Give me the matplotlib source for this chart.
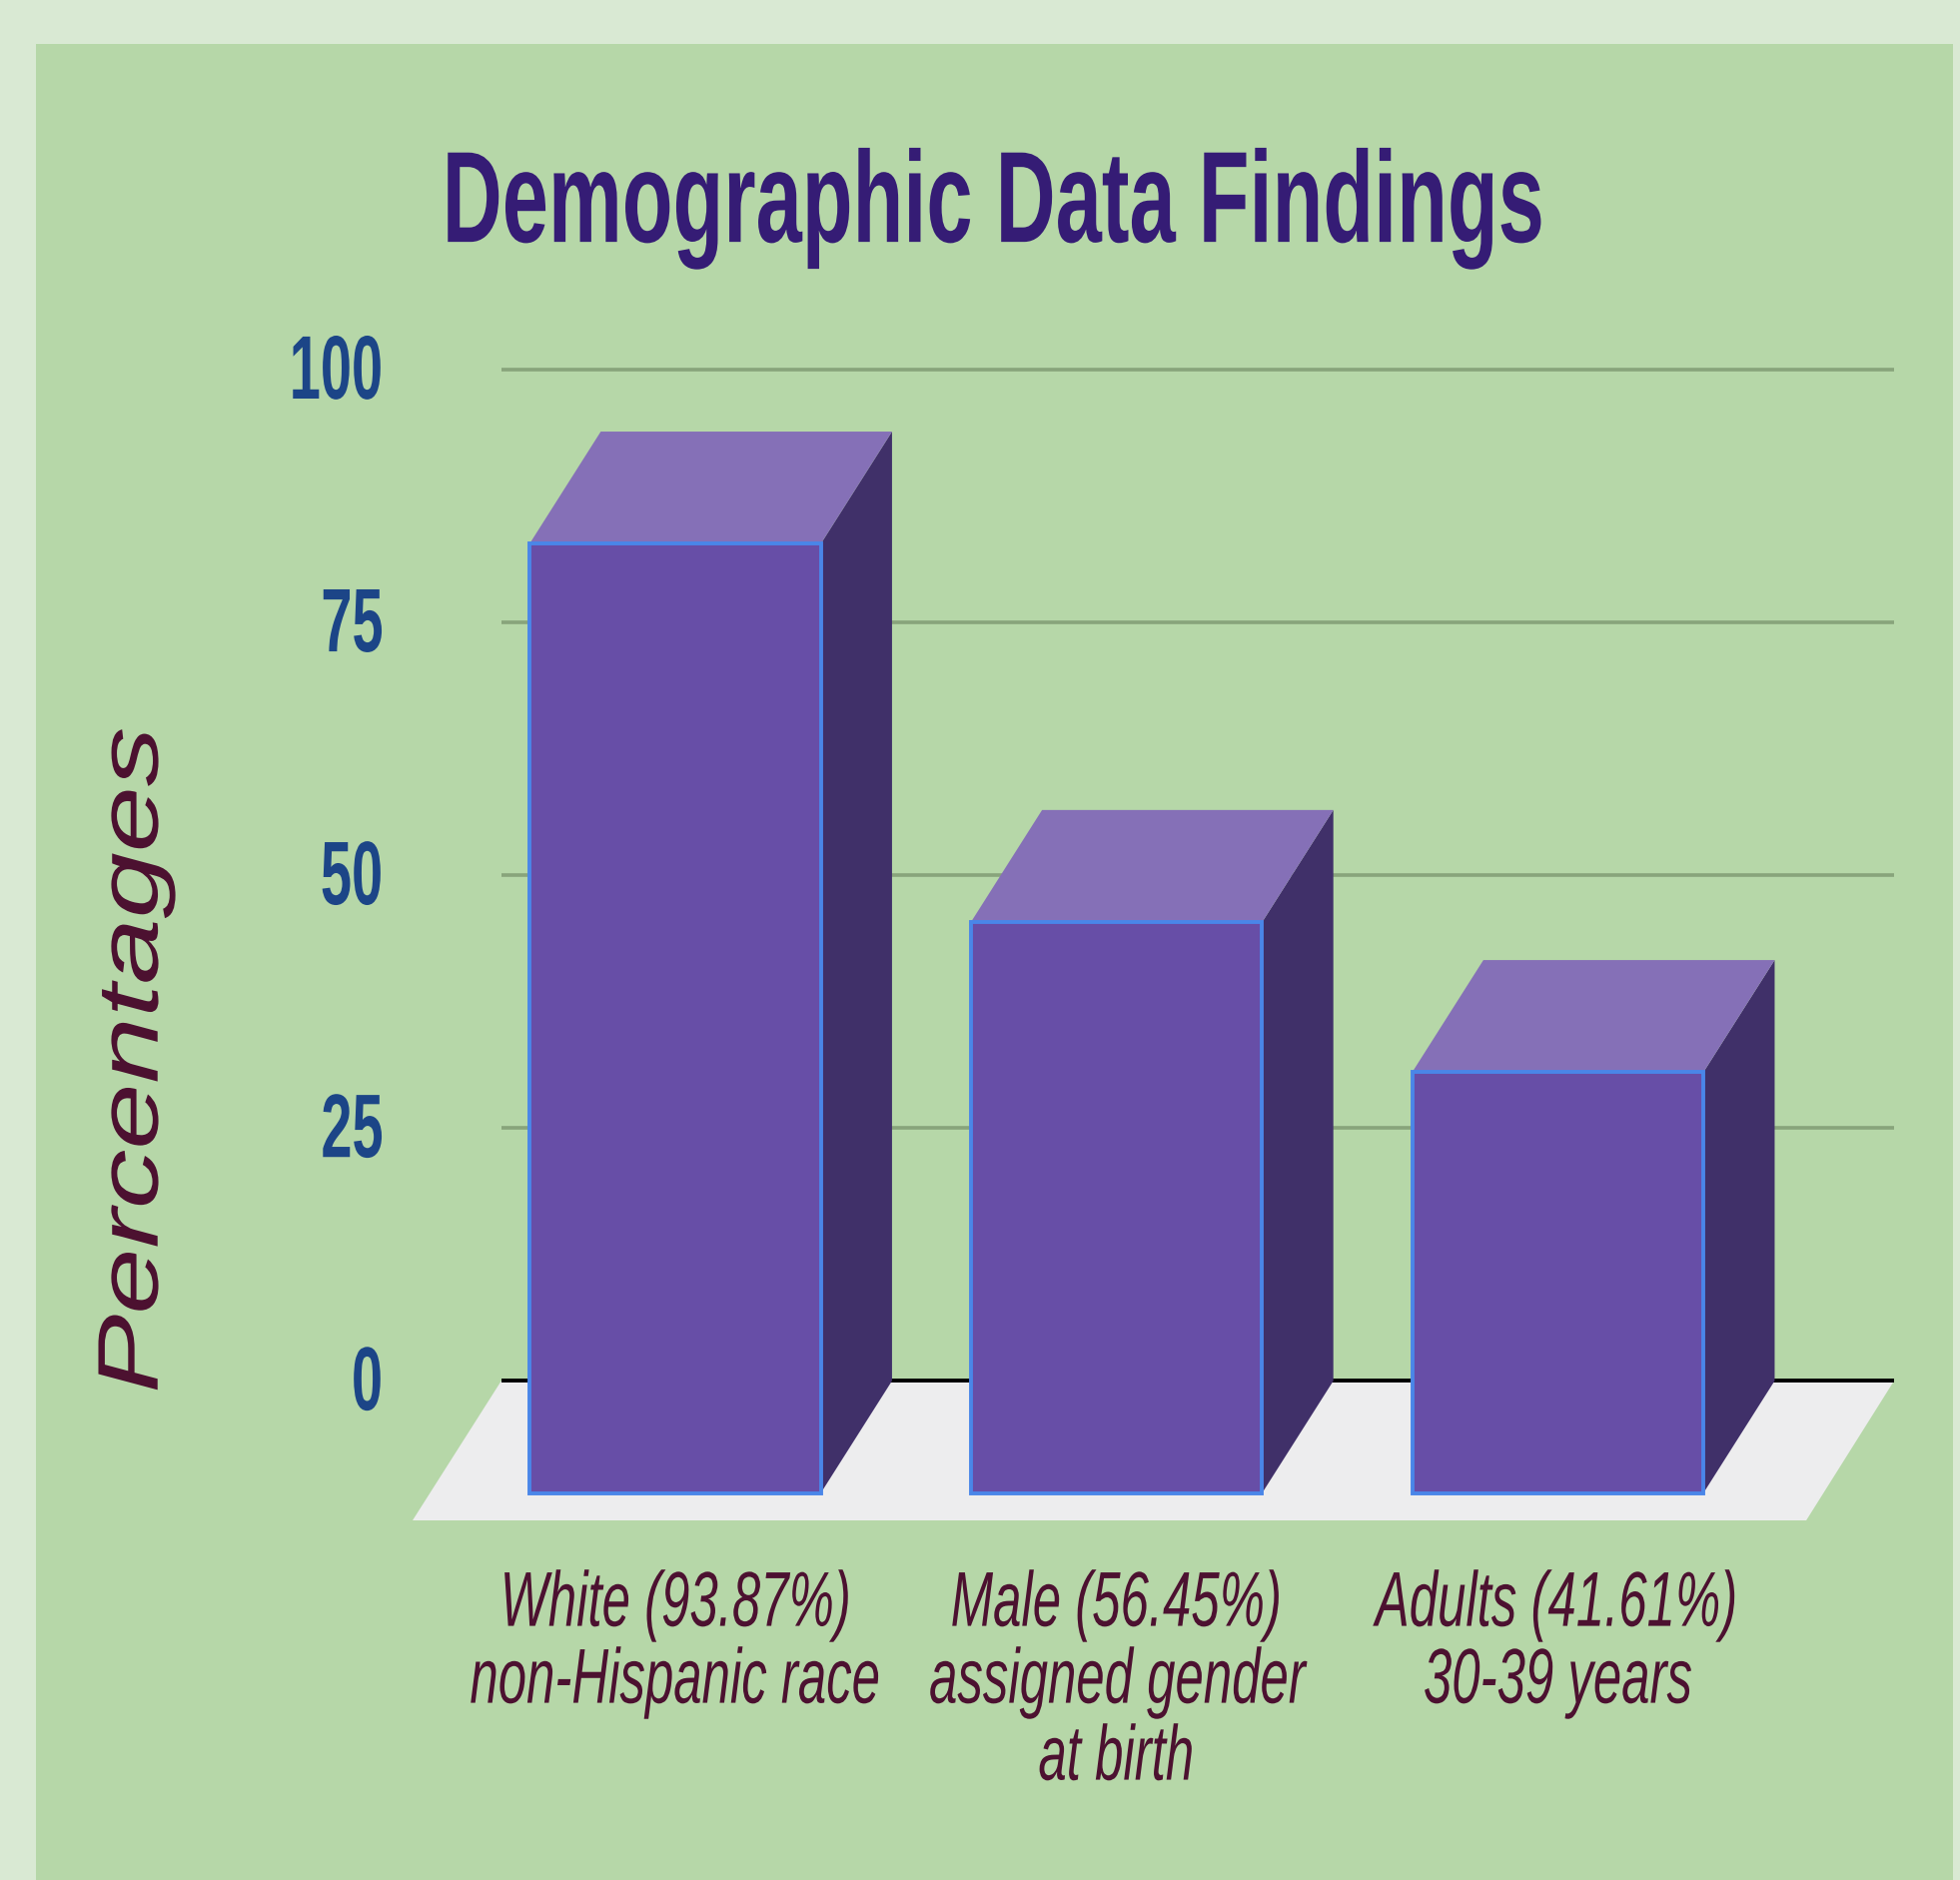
import matplotlib
matplotlib.use('Agg')
import numpy as np
import matplotlib.pyplot as plt
from matplotlib.patches import Rectangle
from matplotlib.patheffects import AbstractPathEffect
from matplotlib.transforms import Affine2D

# data
categories = ['White (93.87%)\nnon-Hispanic race',
              'Male (56.45%)\nassigned gender\nat birth',
              'Adults (41.61%)\n30-39 years']
values = [93.87, 56.45, 41.61]
y_ticks = [0, 25, 50, 75, 100]
y_tick_labels = ['0', '25', '50', '75', '100']


# the original text is squeezed or stretched sideways, no installed font does that
class StretchX(AbstractPathEffect):
    def __init__(self, sx, anchor='center'):
        super().__init__()
        self.sx = sx
        self.anchor = anchor

    def draw_path(self, renderer, gc, tpath, affine, rgbFace=None):
        box = tpath.get_extents()
        c = box.x1 if self.anchor == 'right' else (box.x0 + box.x1) / 2
        t = Affine2D().translate(-c, 0).scale(self.sx, 1).translate(c, 0)
        renderer.draw_path(gc, t.transform_path(tpath), affine, rgbFace)


W, H = 1962, 1883
plt.rcParams['font.family'] = ['Liberation Sans', 'DejaVu Sans']

fig = plt.figure(figsize=(W / 100, H / 100), dpi=100, facecolor='#D9E9D3')
fig.add_artist(Rectangle((36 / W, 0), (1955 - 36) / W, (H - 45) / H,
                         transform=fig.transFigure, fc='#B6D7A8', ec='none', zorder=-1))

# axes go from the front edge of the floor to the 100 line
ax = fig.add_axes([413 / W, (H - 1523) / H, (1896 - 413) / W, (1523 - 371) / H])
ax.set_facecolor('none')
for s in ax.spines.values():
    s.set_visible(False)
ax.set_xlim(-0.595, 2.762)
ax.set_ylim(-13.8, 100)

x = np.arange(len(values))
bar_w = 0.66
depth_x = 0.1614
depth_y = 11.1
wall_l, wall_r = -0.394, 2.762
floor_l, floor_r = -0.595, 2.563

ax.hlines(y_ticks[1:], wall_l, wall_r, color='#88A47B', lw=2.6, zorder=1, clip_on=False)
ax.fill([wall_l, wall_r, floor_r, floor_l], [0, 0, -13.8, -13.8], color='#EDEDEE', lw=0, zorder=2)
ax.hlines(0, wall_l, wall_r, color='black', lw=2.8, zorder=2.5)

for xi, v in zip(x, values):
    l, r = xi - bar_w / 2, xi + bar_w / 2
    top = v - depth_y
    # side and top faces
    ax.fill([r, r + depth_x, r + depth_x, r],
            [-depth_y, 0, top + depth_y, top], color='#403069', lw=0, zorder=3)
    ax.fill([l, r, r + depth_x, l + depth_x],
            [top, top, top + depth_y, top + depth_y], color='#8570B7', lw=0, zorder=3)

ax.bar(x, values, bar_w, bottom=-depth_y, color='#674EA7', edgecolor='#4A86E8',
       linewidth=2.8, zorder=4)

ax.set_yticks(y_ticks)
ax.set_yticklabels(y_tick_labels, fontsize=65, fontweight='bold', color='#1C4587')
ax.set_xticks(x)
ax.set_xticklabels(categories, fontsize=56, style='italic', color='#4C1130', linespacing=1.07)
ax.tick_params(axis='y', length=0, pad=20.5)
ax.tick_params(axis='x', length=0, pad=35)
for t in ax.get_yticklabels():
    t.set_path_effects([StretchX(0.62, 'right')])
    t.set_transform(t.get_transform() + Affine2D().translate(0, 4))
for t in ax.get_xticklabels():
    t.set_path_effects([StretchX(0.655)])

ax.set_ylabel('Percentages', fontsize=62, style='italic', color='#4C1130',
              path_effects=[StretchX(1.38)])
ax.yaxis.set_label_coords(-0.16, 0.4)

ax.set_title('Demographic Data Findings', fontsize=93.6, fontweight='bold', color='#351C75',
             x=0.392, y=1.111, pad=0, path_effects=[StretchX(0.639)])

fig.savefig('out.png', dpi=100, facecolor=fig.get_facecolor())
